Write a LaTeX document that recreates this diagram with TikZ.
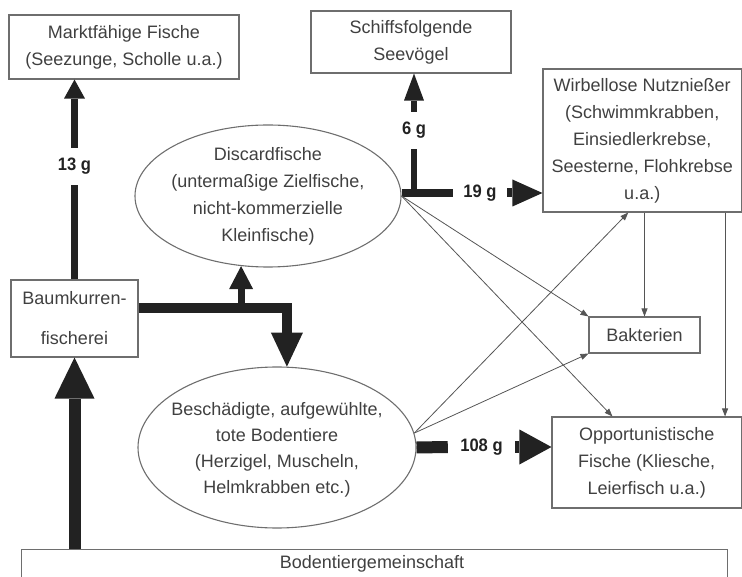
\documentclass[tikz,border=0pt]{standalone}
\usepackage{fontspec}
\setmainfont{Liberation Sans}
\newfontfamily\lblfont[FakeStretch=0.92]{Liberation Sans}
\usetikzlibrary{arrows.meta,shapes.geometric}
\definecolor{txtc}{HTML}{404040}
\definecolor{framec}{HTML}{6E6E6E}
\definecolor{linec}{HTML}{555555}
\definecolor{thickc}{HTML}{222222}
\begin{document}
\begin{tikzpicture}[x=1pt,y=-1pt,
  font=\fontsize{18}{27}\selectfont, text=txtc,
  box/.style={draw=framec, line width=1.1pt, inner sep=0pt, align=center},
  oval/.style={draw=framec, line width=1.1pt, ellipse, inner sep=0pt},
  txt/.style={align=center, inner sep=0pt},
  flow/.style={draw=linec, line width=0.8pt, -{Triangle[length=8pt,width=6pt]}},
  lbl/.style={font=\lblfont\fontsize{18}{20}\selectfont\bfseries, text=thickc, inner sep=0pt},
  fat/.style={draw=thickc, line join=miter},
  head/.style n args={2}{-{Triangle[length=#1pt,width=#2pt,line width=0pt]}}
]
\useasboundingbox (0,0) rectangle (742,577);
\begin{scope}
\clip (0,0) rectangle (742,577);

% boxes
\node[box, minimum width=230pt, minimum height=64pt] (mk) at (124,47)
  {Marktfähige Fische\\(Seezunge, Scholle u.a.)};
\node[box, minimum width=200pt, minimum height=62pt] (sv) at (411,42)
  {Schiffsfolgende\\Seevögel};
\node[box, minimum width=198.5pt, minimum height=143pt] (wb) at (642.25,140.5)
  {Wirbellose Nutznießer\\(Schwimmkrabben,\\Einsiedlerkrebse,\\Seesterne, Flohkrebse\\u.a.)};
\node[box, minimum width=111pt, minimum height=36pt] (bak) at (644.5,335) {Bakterien};
\node[box, minimum width=189.5pt, minimum height=91pt] (op) at (646.75,462.5)
  {Opportunistische\\Fische (Kliesche,\\Leierfisch u.a.)};
\node[box, minimum width=127pt, minimum height=77pt] (bk) at (74.5,318.5)
  {Baumkurren-\\[13pt]fischerei};
\node[box, anchor=north west, minimum width=706pt, minimum height=60pt] (bt) at (21,549) {};
\node[txt] (btt) at (372,564) {Bodentiergemeinschaft};

% ellipses
\node[oval, minimum width=266pt, minimum height=142pt] (dc) at (268,196) {};
\node[txt] (dct) at (dc) {Discardfische\\(untermaßige Zielfische,\\nicht-kommerzielle\\Kleinfische)};
\node[oval, minimum width=278pt, minimum height=161pt] (be) at (277,447.5) {};
\node[txt, font=\fontsize{18}{26}\selectfont] (bet) at (277,450)
  {Beschädigte, aufgewühlte,\\tote Bodentiere\\(Herzigel, Muscheln,\\Helmkrabben etc.)};

% labels of the thick flows
\node[lbl, minimum height=37pt] (l13) at (74.5,166.5) {13 g};
\node[lbl, minimum height=37pt] (l6) at (414,130.5) {6 g};
\node[lbl, minimum width=54pt] (l19) at (480,193) {19 g};
\node[lbl, minimum width=67pt] (l108) at (481.5,447) {108 g};

\coordinate (dcr) at ([yshift=3pt]dc.east);
\coordinate (bkout) at ([yshift=10.5pt]bk.east);

% thick flows
\draw[fat, line width=12pt, head={41}{40}] (bk.south |- bt.north) -- (bk.south);
\draw[fat, line width=7pt] (bk.north) -- (l13.south);
\draw[fat, line width=7pt, head={19}{21}] (l13.north) -- (mk.south -| l13);
\draw[fat, line width=10pt, head={34}{32}] (bkout) -| (be.83);
\draw[fat, line width=7pt, head={23}{24}] (dc.249 |- bkout) -- (dc.249);
\draw[fat, line width=8pt] (dcr) -- (l19.west);
\draw[fat, line width=9pt, head={30}{27}] (l19.east) -- (wb.west |- l19);
\draw[fat, line width=6pt] (dcr -| l6) -- (l6.south);
\draw[fat, line width=6pt, head={27}{20}] (l6.north) -- (sv.south -| l6);
\draw[fat, line width=12pt] (be.east) -- (l108.west);
\draw[fat, line width=12pt, head={32}{35}] (l108.east) -- (op.west |- l108);

% thin flows
\draw[flow] (dc.east) -- (bak.north west);
\draw[flow] (dc.east) -- ([xshift=61pt]op.north west);
\draw[flow] (be.6) -- ([xshift=-14pt]wb.south);
\draw[flow] (be.6) -- (bak.south west);
\draw[flow] (bak.north |- wb.south) -- (bak.north);
\draw[flow] ([xshift=-17pt]wb.south east) -- ([xshift=-17pt]op.north east);
\end{scope}
\end{tikzpicture}
\end{document}
